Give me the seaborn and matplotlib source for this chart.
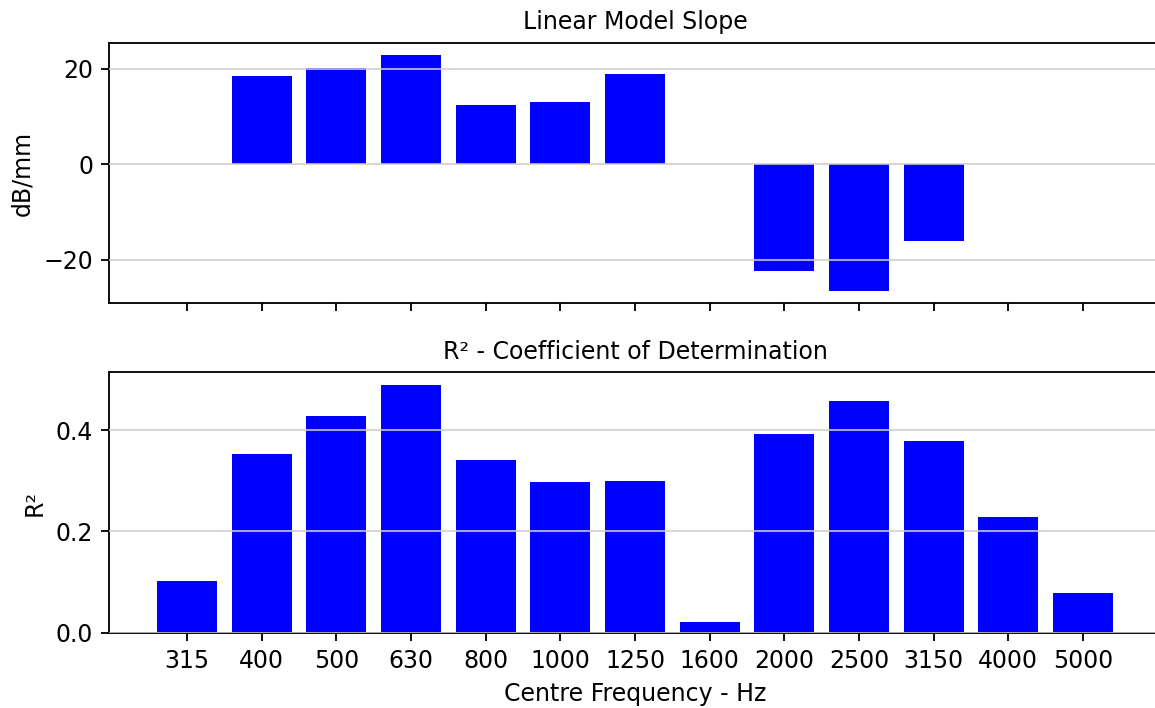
import numpy as np
import pandas as pd
import matplotlib
matplotlib.use("Agg")
import matplotlib.pyplot as plt
import seaborn as sns

frequencies = ["315", "400", "500", "630", "800", "1000", "1250", "1600",
               "2000", "2500", "3150", "4000", "5000"]
slope_db_mm = [np.nan, 18.4, 20.2, 22.95, 12.4, 13.05, 18.9, np.nan,
               -22.3, -26.6, -16.1, np.nan, np.nan]
r_squared = [0.102, 0.354, 0.428, 0.490, 0.342, 0.297, 0.299, 0.022,
             0.393, 0.458, 0.379, 0.228, 0.078]

df = pd.DataFrame({"freq": frequencies, "slope": slope_db_mm, "r2": r_squared})

FS = 10.3
plt.rcParams["font.family"] = ["DejaVu Sans"]
plt.rcParams["font.size"] = FS

W, H, DPI = 1155, 708, 165
fig = plt.figure(figsize=(W / DPI, H / DPI), dpi=DPI)

left = 109.3 / W
width = (1160.7 - 109.3) / W
ax1 = fig.add_axes([left, 1 - 303.3 / H, width, (303.3 - 42.7) / H])
ax2 = fig.add_axes([left, 1 - 632.7 / H, width, (632.7 - 372.3) / H], sharex=ax1)

sns.barplot(data=df, x="freq", y="slope", order=frequencies, color="blue",
            saturation=1, width=0.8, ax=ax1, errorbar=None)
sns.barplot(data=df, x="freq", y="r2", order=frequencies, color="blue",
            saturation=1, width=0.8, ax=ax2, errorbar=None)

for ax in (ax1, ax2):
    ax.set_xlim(-1.04, 13.04)
    ax.set_axisbelow(False)
    ax.yaxis.grid(True, color="#cccccc", alpha=0.8, linewidth=0.9)
    ax.xaxis.grid(False)
    for s in ax.spines.values():
        s.set_linewidth(0.8)
        s.set_color("black")
    ax.spines["right"].set_visible(False)
    ax.tick_params(labelsize=FS)

ax1.set_ylim(-29.08, 25.45)
ax1.set_yticks([-20, 0, 20])
ax1.set_xlabel("")
ax1.set_ylabel("dB/mm", fontsize=FS)
ax1.set_title("Linear Model Slope", fontsize=FS)
ax1.tick_params(axis="x", labelbottom=False)

ax2.set_ylim(0, 0.5146)
ax2.set_yticks([0.0, 0.2, 0.4])
ax2.set_xlabel("Centre Frequency - Hz", fontsize=FS)
ax2.set_ylabel("R²", fontsize=FS)
ax2.set_title("R² - Coefficient of Determination", fontsize=FS)

fig.savefig("out.png", dpi=DPI)
